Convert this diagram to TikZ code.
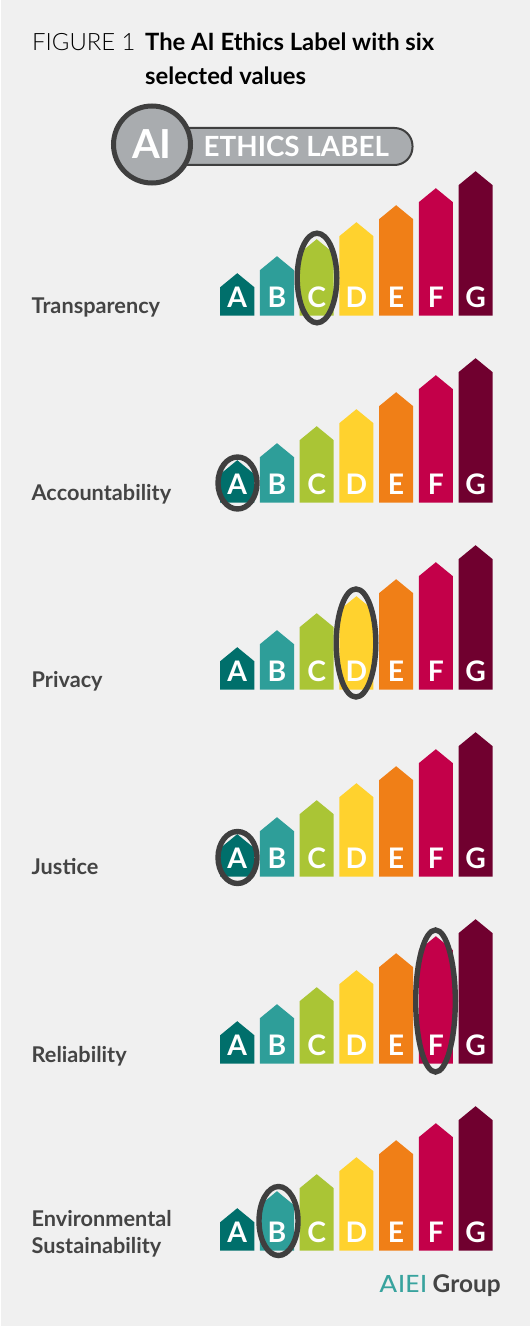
\documentclass[tikz,border=0pt]{standalone}
\usepackage{fontspec}
\usepackage{graphicx}
\setmainfont{Lato}
\newfontfamily\latolight{Lato Light}
\newfontfamily\logofont{Poppins}
\definecolor{bgc}{HTML}{F0F0F0}
\definecolor{ca}{HTML}{006F6B}
\definecolor{cb}{HTML}{2E9E99}
\definecolor{cc}{HTML}{AAC535}
\definecolor{cd}{HTML}{FFD22E}
\definecolor{ce}{HTML}{F07F17}
\definecolor{cf}{HTML}{C30049}
\definecolor{cg}{HTML}{70002F}
\definecolor{ring}{HTML}{3F3F3F}
\definecolor{pill}{HTML}{A9ACAF}
\definecolor{labc}{HTML}{444444}
\definecolor{teal}{HTML}{38A39E}
\tikzset{
 x=1bp,y=-1bp,
 letter/.style={text=white,font=\bfseries\fontsize{28.3bp}{28.3bp}\selectfont,anchor=base,inner sep=0pt},
 rowlabel/.style={text=labc,font=\bfseries\fontsize{21.7bp}{27bp}\selectfont,anchor=base west,inner sep=0pt,align=left},
 selring/.style={draw=ring,line width=5.4bp,fill=none},
}
\newcommand{\barrow}[1]{%
 \foreach \i/\l/\c in {0/A/ca,1/B/cb,2/C/cc,3/D/cd,4/E/ce,5/F/cf,6/G/cg}{
  \pgfmathsetmacro{\xl}{220.2+39.72*\i}
  \pgfmathsetmacro{\xr}{\xl+34.1}
  \pgfmathsetmacro{\xm}{\xl+17.05}
  \pgfmathsetmacro{\tp}{#1-42.3-17*\i}
  \pgfmathsetmacro{\sh}{\tp+14}
  \fill[\c] (\xl,#1) -- (\xl,\sh) -- (\xm,\tp) -- (\xr,\sh) -- (\xr,#1) -- cycle;
  \pgfmathsetmacro{\by}{#1-8}
  \node[letter] (let\l#1) at (\xm,\by) {\l};
 }}
\begin{document}
\begin{tikzpicture}
\useasboundingbox (0,0) rectangle (530,1326);
\fill[bgc] (1,0) rectangle (530,1326);
\node[anchor=base west,inner sep=0pt,font=\latolight\fontsize{23.9bp}{23.9bp}\selectfont,text=black] (fig) at (32,50.5) {FIGURE 1};
\node[anchor=base west,inner sep=0pt,font=\bfseries\fontsize{23.8bp}{34bp}\selectfont,text=black,align=left] (title) at (145,85) {The AI Ethics Label with six\\selected values};
% label
\draw[ring,line width=2bp,fill=pill,rounded corners=18bp] (165,128) rectangle (412.5,165);
\node[circle,draw=ring,line width=5bp,fill=pill,minimum size=77bp,inner sep=0pt] (ai) at (152,144.5) {};
\node[anchor=base,inner sep=0pt,text=white,font=\bfseries\fontsize{40bp}{40bp}\selectfont] (aitext) at (152,158.5) {AI};
\node[anchor=base west,inner sep=0pt,text=white,font=\bfseries\fontsize{27.8bp}{27.8bp}\selectfont] (eth) at (203.5,156.5) {ETHICS LABEL};
% rows
\barrow{315.5}
\barrow{502.5}
\barrow{689.5}
\barrow{876.5}
\barrow{1063.5}
\barrow{1250.5}
% rings
\draw[selring] (317,278) ellipse [x radius=19.8,y radius=44.8];
\draw[selring] (237.5,483) ellipse [x radius=19.5,y radius=26];
\draw[selring] (356,643) ellipse [x radius=19.8,y radius=54];
\draw[selring] (237.5,857.5) ellipse [x radius=19.5,y radius=26];
\draw[selring] (435.5,1001) ellipse [x radius=19.8,y radius=71];
\draw[selring] (278.5,1221) ellipse [x radius=19.5,y radius=34.5];
% row labels
\node[rowlabel] (r1) at (31.5,313.5) {Transparency};
\node[rowlabel] (r2) at (31.5,500.5) {Accountability};
\node[rowlabel] (r3) at (31.5,687.5) {Privacy};
\node[rowlabel] (r4) at (31.5,874.5) {Justice};
\node[rowlabel] (r5) at (31.5,1062.5) {Reliability};
\node[rowlabel] (r6) at (31.5,1253.5) {Environmental\\Sustainability};
% logo
\node[anchor=base west,inner sep=0pt,text=teal,font=\logofont\fontsize{24.5bp}{24.5bp}\selectfont] (logoa) at (378.5,1292.5) {\scalebox{1.18}[1]{AIEI}};
\node[anchor=base west,inner sep=0pt,text=labc,font=\bfseries\fontsize{24.4bp}{24.4bp}\selectfont] (logob) at (432.5,1292.5) {Group};
\end{tikzpicture}
\end{document}
